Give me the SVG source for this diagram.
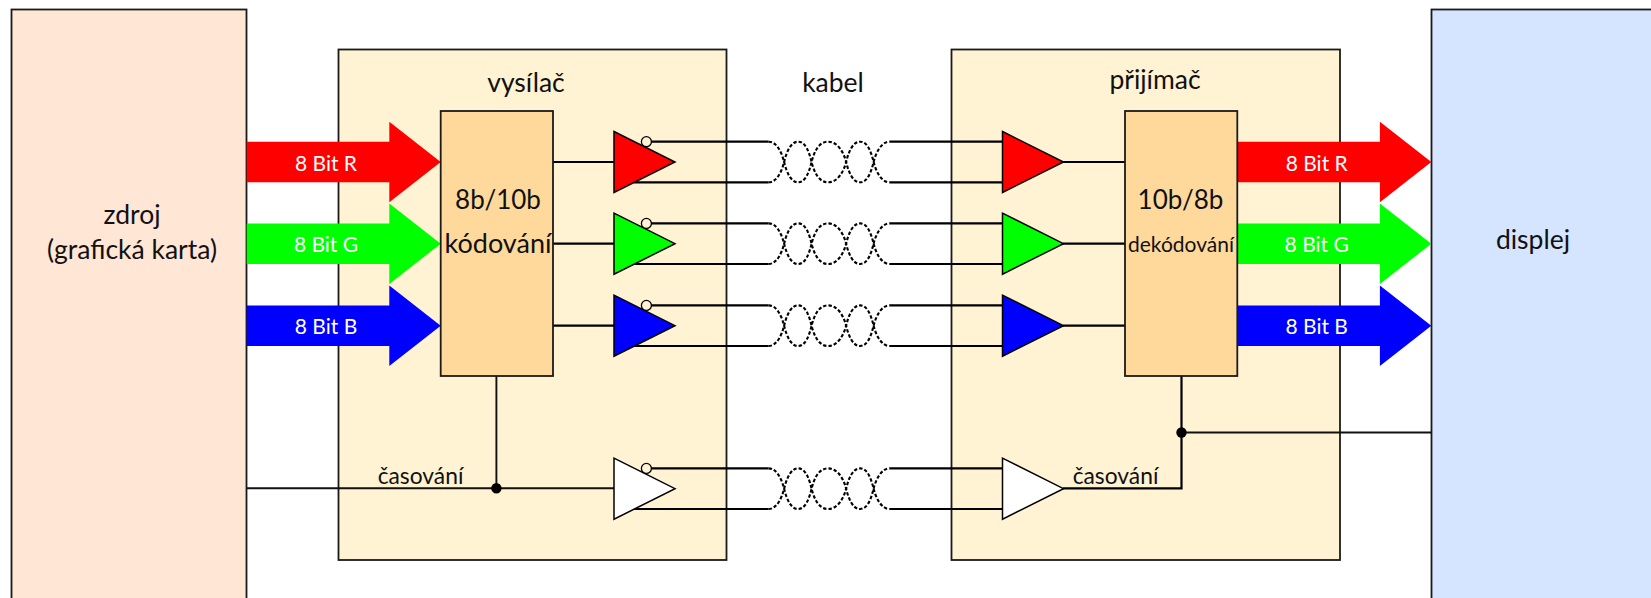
<svg xmlns="http://www.w3.org/2000/svg" xmlns:xlink="http://www.w3.org/1999/xlink" width="1651" height="598" viewBox="0 0 1651 598">
<style>
text{font-family:Lato,"Open Sans","Liberation Sans",sans-serif;fill:#111;text-anchor:middle}
.box{stroke:#1a1a1a;stroke-width:1.8}
.w{fill:none;stroke:#000;stroke-width:2.2}
.tw{fill:none;stroke:#000;stroke-width:2.1;stroke-dasharray:3.4 2}
.thin{fill:none;stroke:#111;stroke-width:1.9}
.tri{stroke:#000;stroke-width:1.5;stroke-linejoin:miter}
.lbl{fill:#fff;font-size:21px}
.big{font-size:27px}
.num{font-size:26px}
.mid{font-size:26.500px}
.small{font-size:21px}
.tm{font-size:22.800px}
</style>
<defs>
<path id="arrow" d="M0-20.3H142.6V-40.3L194 0 142.6 40.3V20.3H0Z" stroke="none"/>
<path id="tri" d="M0-30.5L61 0 0 30.5Z"/>
<g id="twist">
<path class="tw" d="M0-20.300C8-20.300 13-10 15.500 0 18 10 22 20.300 29.500 20.300 37 20.300 40.500 10 43 0 45.500-10 50-20.300 59.500-20.300 69-20.300 75-10 77.500 0 80 10 84 20.300 91.500 20.300 99 20.300 102.500 10 105 0 107.500-10 113-20.300 121-20.300"/>
<path class="tw" d="M0 20.300C8 20.300 13 10 15.500 0 18-10 22-20.300 29.500-20.300 37-20.300 40.500-10 43 0 45.500 10 50 20.300 59.500 20.300 69 20.300 75 10 77.500 0 80-10 84-20.300 91.500-20.300 99-20.300 102.500-10 105 0 107.500 10 113 20.300 121 20.300"/>
</g>
<g id="pair">
<path class="w" d="M-5 -20.300H116.600M-18 20.300H116.600"/>
<use xlink:href="#twist" x="116.600"/>
<path class="w" d="M237.600-20.300H350.500M237.600 20.300H350.500"/>
</g>
</defs>

<g id="source">
<rect class="box" x="11.500" y="9.500" width="235" height="600" fill="#FFE6D5"/>
<text x="132" y="224" class="mid">zdroj</text>
<text x="132" y="259" class="mid">(grafická karta)</text>
</g>
<g id="display">
<rect class="box" x="1431.500" y="9.500" width="240" height="600" fill="#D5E4FF"/>
<text x="1533" y="249" class="mid">displej</text>
</g>
<g id="transmitter">
<rect class="box" x="338.500" y="49.500" width="388" height="510.500" fill="#FFF3D3"/>
<text x="526" y="92" class="mid">vysílač</text>
</g>
<g id="receiver">
<rect class="box" x="951.500" y="49.500" width="388.500" height="510.500" fill="#FFF3D3"/>
<text x="1155" y="89" class="mid">přijímač</text>
</g>
<g id="cable-label"><text x="833" y="92" class="mid">kabel</text></g>

<g id="connectors">
<path class="w" d="M553 162H614M553 243.700H614M553 325.700H614"/>
<path class="w" d="M1063 162H1125M1063 243.700H1125M1063 325.700H1125"/>
<path class="thin" d="M246.500 488.300H614M496.400 376V488.300"/>
<path class="w" d="M1063 488.300H1181.500V376"/>
<path class="thin" d="M1181.500 432.500H1431.500"/>
<circle cx="496.400" cy="488.300" r="5.200" fill="#000"/>
<circle cx="1181.500" cy="432.500" r="5.200" fill="#000"/>
<use xlink:href="#pair" x="652" y="162"/>
<use xlink:href="#pair" x="652" y="243.700"/>
<use xlink:href="#pair" x="652" y="325.700"/>
<use xlink:href="#pair" x="652" y="488.700"/>
</g>

<g id="arrows-in">
<use xlink:href="#arrow" x="246.700" y="162" fill="#f00"/>
<use xlink:href="#arrow" x="246.700" y="243.700" fill="#0f0"/>
<use xlink:href="#arrow" x="246.700" y="325.700" fill="#00f"/>
<text x="326" y="170.500" class="lbl">8 Bit R</text>
<text x="326" y="252" class="lbl">8 Bit G</text>
<text x="326" y="334" class="lbl">8 Bit B</text>
</g>
<g id="arrows-out">
<use xlink:href="#arrow" x="1237.300" y="162" fill="#f00"/>
<use xlink:href="#arrow" x="1237.300" y="243.700" fill="#0f0"/>
<use xlink:href="#arrow" x="1237.300" y="325.700" fill="#00f"/>
<text x="1316.700" y="170.500" class="lbl">8 Bit R</text>
<text x="1316.700" y="252" class="lbl">8 Bit G</text>
<text x="1316.700" y="334" class="lbl">8 Bit B</text>
</g>

<g id="encoder">
<rect class="box" x="440.700" y="111" width="112.300" height="265" fill="#FFD99C"/>
<text x="498" y="209" class="num">8b/10b</text>
<text x="498" y="252.700" class="big">kódování</text>
</g>
<g id="decoder">
<rect class="box" x="1125" y="111" width="112.300" height="265" fill="#FFD99C"/>
<text x="1180.500" y="209" class="num">10b/8b</text>
<text x="1181" y="251.700" class="small">dekódování</text>
</g>

<g id="tx-r"><use xlink:href="#tri" class="tri" x="614" y="162" fill="#f00"/><circle cx="646.400" cy="141.700" r="5" fill="#FFF3D3" stroke="#000" stroke-width="1.300"/></g>
<g id="tx-g"><use xlink:href="#tri" class="tri" x="614" y="243.700" fill="#0f0"/><circle cx="646.400" cy="223.400" r="5" fill="#FFF3D3" stroke="#000" stroke-width="1.300"/></g>
<g id="tx-b"><use xlink:href="#tri" class="tri" x="614" y="325.700" fill="#00f"/><circle cx="646.400" cy="305.400" r="5" fill="#FFF3D3" stroke="#000" stroke-width="1.300"/></g>
<g id="tx-clk"><use xlink:href="#tri" class="tri" x="614" y="488.700" fill="#fff"/><circle cx="646.400" cy="468.400" r="5" fill="#FFF3D3" stroke="#000" stroke-width="1.300"/></g>
<g id="rx-r"><use xlink:href="#tri" class="tri" x="1002.500" y="162" fill="#f00"/></g>
<g id="rx-g"><use xlink:href="#tri" class="tri" x="1002.500" y="243.700" fill="#0f0"/></g>
<g id="rx-b"><use xlink:href="#tri" class="tri" x="1002.500" y="325.700" fill="#00f"/></g>
<g id="rx-clk"><use xlink:href="#tri" class="tri" x="1002.500" y="488.700" fill="#fff"/></g>

<g id="timing-labels">
<text x="420.500" y="484" class="tm">časování</text>
<text x="1115.500" y="484" class="tm">časování</text>
</g>
</svg>
